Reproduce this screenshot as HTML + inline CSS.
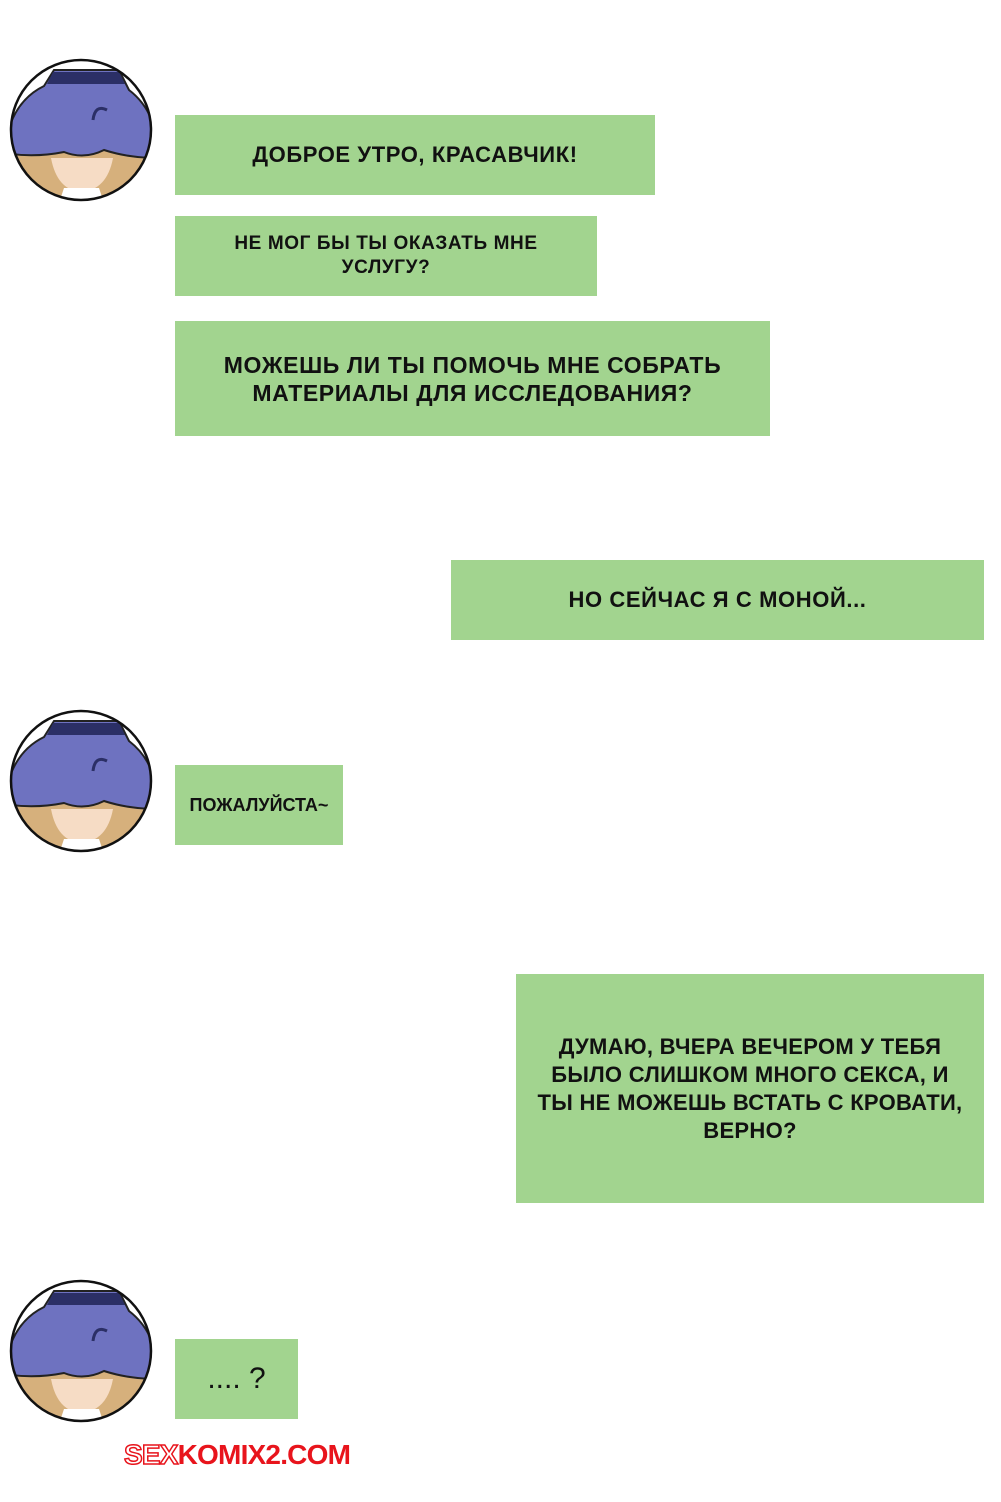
<!DOCTYPE html>
<html><head><meta charset="utf-8"><style>
body{margin:0;width:1001px;height:1502px;background:#fff;position:relative;overflow:hidden;font-family:"Liberation Sans",sans-serif}
.b{position:absolute;background:#a2d48f;display:flex;align-items:center;justify-content:center;text-align:center;font-weight:bold;color:#111;font-size:22px;line-height:28px;letter-spacing:0.6px}
.av{position:absolute;left:9px;width:144px;height:144px}
.wm{position:absolute;left:124px;top:1439px;font-weight:bold;font-size:28px;color:#e8141c;letter-spacing:-0.8px}
.wm span{color:#fff;-webkit-text-stroke:1.5px #e8141c}
</style></head><body>
<svg width="0" height="0" style="position:absolute"><defs>
<clipPath id="c"><circle cx="72" cy="72" r="70"/></clipPath>
<g id="a">
<circle cx="72" cy="72" r="70" fill="#fff"/>
<g clip-path="url(#c)">
<path d="M5 90 Q20 150 72 150 Q125 150 140 90 L130 70 L15 70Z" fill="#d6b07c"/>
<path d="M42 100 Q48 132 72 134 Q98 132 104 100Z" fill="#f6dcc5"/>
<path d="M55 130 L90 130 L95 145 L50 145Z" fill="#fff"/>
<path d="M-5 95 Q0 45 35 28 L45 12 L110 12 L120 32 Q150 55 148 100 Q120 100 95 92 Q75 102 55 94 Q25 100 -5 95Z" fill="#6e72c0" stroke="#222" stroke-width="2"/>
<path d="M44 14 L110 14 L116 26 L38 26Z" fill="#2b2f66"/>
<path d="M84 62 Q86 46 98 52" fill="none" stroke="#2b2f66" stroke-width="3"/>
</g>
<circle cx="72" cy="72" r="70" fill="none" stroke="#111" stroke-width="2.5"/>
</g></defs></svg>
<svg class="av" style="top:58px" viewBox="0 0 144 144"><use href="#a"/></svg>
<svg class="av" style="top:709px" viewBox="0 0 144 144"><use href="#a"/></svg>
<svg class="av" style="top:1279px" viewBox="0 0 144 144"><use href="#a"/></svg>

<div class="b" style="left:175px;top:115px;width:480px;height:80px">ДОБРОЕ УТРО, КРАСАВЧИК!</div>
<div class="b" style="left:175px;top:216px;width:422px;height:80px;font-size:19px;line-height:24px">НЕ МОГ БЫ ТЫ ОКАЗАТЬ МНЕ<br>УСЛУГУ?</div>
<div class="b" style="left:175px;top:321px;width:595px;height:115px;font-size:23px">МОЖЕШЬ ЛИ ТЫ ПОМОЧЬ МНЕ СОБРАТЬ<br>МАТЕРИАЛЫ ДЛЯ ИССЛЕДОВАНИЯ?</div>
<div class="b" style="left:451px;top:560px;width:533px;height:80px">НО СЕЙЧАС Я С МОНОЙ...</div>
<div class="b" style="left:175px;top:765px;width:168px;height:80px;font-size:18px;letter-spacing:0">ПОЖАЛУЙСТА~</div>
<div class="b" style="left:516px;top:974px;width:468px;height:229px;font-size:22px;letter-spacing:0.3px">ДУМАЮ, ВЧЕРА ВЕЧЕРОМ У ТЕБЯ<br>БЫЛО СЛИШКОМ МНОГО СЕКСА, И<br>ТЫ НЕ МОЖЕШЬ ВСТАТЬ С КРОВАТИ,<br>ВЕРНО?</div>
<div class="b" style="left:175px;top:1339px;width:123px;height:80px;font-weight:normal;font-size:30px;letter-spacing:0">.... ?</div>
<div class="wm"><span>SEX</span>KOMIX2.COM</div>
</body></html>
